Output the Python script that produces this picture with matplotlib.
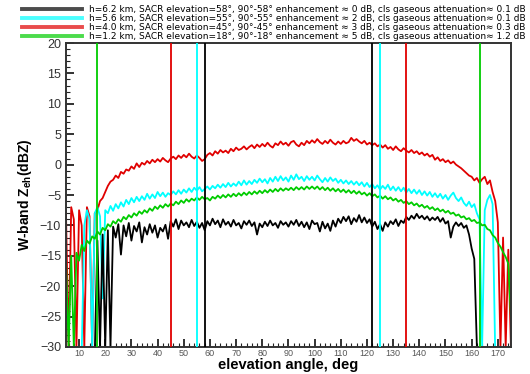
import numpy as np
import matplotlib
matplotlib.use("Agg")
import matplotlib.pyplot as plt
from matplotlib.ticker import MultipleLocator

plt.rcParams['font.family'] = ['Liberation Sans', 'DejaVu Sans']

# elevation angle grid, deg
angle = np.arange(5, 176)

red = [
    -8, -30, -7, -9, -30, -7.5, -10, -30, -7, -8.5,
    -30, -8, -7.5, -6, -5.5, -4.5, -3.5, -2.8, -2.5, -1.8,
    -2.2, -1.2, -1.5, -0.8, -1.0, -0.3, -0.7, 0.2, -0.4, 0.3,
    0.0, 0.6, 0.2, 0.8, 0.4, 0.9, 0.5, 1.1, 0.7, 0.4,
    1.0, 1.3, 0.9, 1.5, 1.1, 1.6, 1.2, 1.8, 1.3, 1.0,
    1.5, 1.1, 0.6, 0.9, 1.6, 1.9, 1.5, 2.2, 1.8, 2.4,
    2.0, 2.3, 1.9, 2.6, 2.2, 2.8, 2.4, 2.6, 3.0, 2.5,
    2.9, 3.2, 2.7, 3.3, 2.9, 3.4, 3.0, 3.6, 3.1, 2.8,
    3.5, 3.2, 3.8, 3.3, 3.6, 3.1, 3.7, 3.9, 3.3, 3.0,
    3.6, 3.2, 3.9, 3.5, 4.0, 3.6, 4.2, 3.7, 3.4, 3.9,
    3.5, 4.1, 3.6, 3.3, 3.8, 3.4, 3.9, 3.5, 3.7, 4.4,
    3.9, 4.2, 3.8, 3.5, 3.9, 3.3, 3.6, 3.2, 3.5, 3.0,
    3.3, 2.8, 3.2, 2.6, 2.9, 2.4, 3.0, 2.5, 2.2, 2.7,
    2.3, 2.0, 2.4, 1.9, 2.2, 1.7, 2.0, 1.5, 1.8, 1.3,
    1.6, 0.8, 1.2, 0.6, 0.9, 0.4, 0.7, 0.2, 0.5, 0.0,
    -0.3, -0.6, -1.0, -1.4, -1.8, -2.0, -2.6, -2.2, -3.0, -2.4,
    -2.0, -3.2, -2.6, -4.5, -6.0, -9.5, -30, -12, -30, -14,
    -30,
]

cyan = [
    -31, -31, -31, -31, -31, -31, -31, -10, -7.5, -9,
    -30, -8, -7, -8.5, -22, -7.5, -8, -6.8, -7.6, -6.5,
    -7.2, -6.2, -6.9, -5.8, -6.5, -5.5, -6.2, -5.3, -6.0, -5.2,
    -5.8, -4.8, -5.6, -4.9, -5.5, -4.5, -5.2, -4.6, -5.3, -4.7,
    -5.0, -4.4, -4.9, -4.2, -4.8, -4.1, -4.6, -3.9, -4.5, -3.8,
    -4.3, -3.7, -4.4, -4.0, -3.6, -4.1, -3.5, -3.9, -3.3, -3.8,
    -3.2, -3.7, -3.0, -3.6, -3.1, -3.5, -2.8, -3.4, -2.6, -3.3,
    -2.7, -3.2, -2.5, -3.0, -2.3, -2.9, -2.4, -3.1, -2.2, -2.8,
    -2.0, -2.7, -1.9, -2.6, -2.1, -2.8, -1.8, -2.5, -1.6, -2.4,
    -2.0, -2.7, -1.9, -2.5, -2.0, -2.6, -1.8, -2.4, -2.9, -2.2,
    -2.8, -2.1, -2.7, -2.3, -3.0, -2.5, -3.1, -2.6, -3.2, -2.7,
    -3.3, -2.8, -3.4, -2.9, -3.6, -3.0, -3.7, -3.2, -3.9, -3.4,
    -4.1, -3.5, -4.0, -3.3, -4.2, -3.6, -4.3, -3.7, -4.4, -3.8,
    -4.6, -4.0, -4.7, -4.1, -4.8, -4.2, -5.0, -4.4, -5.1, -4.5,
    -5.3, -4.7, -5.4, -4.8, -5.6, -5.0, -5.8, -5.1, -4.6, -5.5,
    -6.0, -5.4, -6.3, -6.8, -6.1, -7.0, -6.5, -8.0, -9.0, -30,
    -7.5, -5.8, -5.0, -6.5, -31, -31, -31, -31, -31, -31,
    -31,
]

green = [
    -15.5, -30, -15, -30, -14.5, -15.8, -13.2, -14.2, -12.5, -13.0,
    -11.8, -12.2, -11.0, -11.5, -10.4, -10.8, -9.8, -10.2, -9.3, -9.7,
    -9.0, -9.4, -8.6, -9.0, -8.3, -8.7, -8.0, -8.4, -7.7, -8.1,
    -7.5, -7.9, -7.2, -7.6, -6.9, -7.3, -6.7, -7.1, -6.5, -6.9,
    -6.4, -6.7, -6.1, -6.5, -5.9, -6.3, -5.7, -6.1, -5.6, -5.9,
    -5.4, -5.8, -5.3, -5.7, -5.5, -5.9, -5.3, -5.6, -5.1, -5.5,
    -5.0, -5.4, -4.9, -5.3, -4.8, -5.2, -4.7, -5.1, -4.6, -5.0,
    -4.5, -4.9, -4.4, -4.8, -4.3, -4.7, -4.2, -4.6, -4.1, -4.5,
    -4.0, -4.4, -3.9, -4.3, -3.9, -4.2, -3.8, -4.2, -3.7, -4.1,
    -3.7, -4.1, -3.6, -4.0, -3.6, -4.0, -3.6, -4.1, -3.7, -4.2,
    -3.8, -4.3, -3.9, -4.4, -4.0, -4.5, -4.1, -4.6, -4.2, -4.7,
    -4.3, -4.8, -4.4, -4.9, -4.6, -5.1, -4.7, -5.2, -4.9, -5.4,
    -5.1, -5.6, -5.2, -5.7, -5.4, -5.9, -5.6, -6.1, -5.8, -6.3,
    -6.0, -6.5, -6.2, -6.7, -6.4, -6.9, -6.6, -7.1, -6.8, -7.3,
    -7.0, -7.5, -7.2, -7.7, -7.4, -7.9, -7.6, -8.1, -7.9, -8.4,
    -8.2, -8.7, -8.5, -9.0, -8.8, -9.3, -9.1, -9.6, -9.5, -10.0,
    -9.9, -10.6, -10.8, -11.6, -12.0, -12.9, -13.5, -14.4, -15.2, -16.3,
    -25,
]

black = [
    -31, -31, -31, -31, -31, -31, -31, -31, -31, -31,
    -31, -31, -12.5, -30, -11.5, -30, -10.8, -30, -10.2, -12.0,
    -9.8, -14.8, -10.0, -11.8, -9.6, -12.5, -10.1, -11.0, -9.5, -12.8,
    -10.3, -11.5, -9.8, -11.2, -10.0, -12.0, -10.4, -11.0, -9.9, -12.2,
    -9.3, -10.2, -9.0, -10.6, -9.2, -10.0, -9.5, -10.3, -9.1, -10.1,
    -9.4, -10.4, -9.6, -10.8, -9.3, -10.0, -8.9, -9.8, -9.2, -10.3,
    -9.0, -9.9, -9.4, -10.2, -9.1, -10.0, -9.6, -10.5, -9.3, -9.9,
    -9.2, -10.1, -9.5, -11.5, -9.7, -10.3, -9.4, -10.1, -9.2, -10.0,
    -9.6, -10.4, -9.3, -9.9, -9.5, -10.2, -9.3, -9.9, -9.1, -10.1,
    -9.4, -10.3, -9.5, -10.6, -9.2, -9.8, -9.6, -11.0, -9.4, -10.5,
    -9.7, -10.9, -9.2, -10.2, -8.9, -9.6, -8.6, -9.3, -8.5, -9.8,
    -8.8, -9.4, -8.3, -9.5, -8.7, -9.6, -9.0, -10.2, -9.4, -10.6,
    -9.8, -10.9, -9.5, -10.2, -9.3, -9.8, -9.0, -10.1, -9.2, -9.6,
    -8.6, -9.1, -8.4, -8.9, -8.1, -8.8, -8.4, -9.0, -8.5, -9.2,
    -8.7, -9.1, -8.6, -9.4, -8.8, -9.7, -9.3, -12.0, -10.2, -9.5,
    -10.1, -9.6, -10.4, -10.0, -11.5, -13.8, -15.5, -30, -31, -31,
    -31, -31, -31, -31, -31, -31, -31, -31, -31, -31,
    -31,
]

labels = [
    "h=6.2 km, SACR elevation=58°, 90°-58° enhancement ≈ 0 dB, cls gaseous attenuation≈ 0.1 dB",
    "h=5.6 km, SACR elevation=55°, 90°-55° enhancement ≈ 2 dB, cls gaseous attenuation≈ 0.1 dB",
    "h=4.0 km, SACR elevation=45°, 90°-45° enhancement ≈ 3 dB, cls gaseous attenuation≈ 0.3 dB",
    "h=1.2 km, SACR elevation=18°, 90°-18° enhancement ≈ 5 dB, cls gaseous attenuation≈ 1.2 dB",
]
colors = ["#000000", "#00ffff", "#e00000", "#00cc00"]
# sector limits for each height (deg)
limits = [(58, 122), (55, 125), (45, 135), (17, 163)]

fig = plt.figure(figsize=(5.3, 3.74), dpi=100)
ax = fig.add_axes([0.1245, 0.0722, 0.8395, 0.8128])

series = [black, cyan, red, green]
handles = []
for i in [2, 1, 0, 3]:
    ax.plot(angle, series[i], color=colors[i], lw=1.3, zorder=2)
for i in range(4):
    for lim in limits[i]:
        ax.axvline(lim, color=colors[i], lw=1.3, zorder=3)
    h, = ax.plot([], [], color=colors[i], lw=2.8, alpha=0.7)
    handles.append(h)

ax.set_xlim(5, 175)
ax.set_ylim(-30, 20)
ax.xaxis.set_major_locator(MultipleLocator(10))
ax.xaxis.set_minor_locator(MultipleLocator(2))
ax.yaxis.set_major_locator(MultipleLocator(5))
ax.yaxis.set_minor_locator(MultipleLocator(1))
ax.tick_params(which='both', direction='in', top=False, right=False, colors='#222222')
ax.tick_params(which='major', length=6, width=1.3)
ax.tick_params(which='minor', length=3, width=0.8)
ax.tick_params(axis='x', labelsize=6.5, labelcolor='#555555', pad=1.5)
ax.tick_params(axis='y', labelsize=9, labelcolor='#333333')
for s in ax.spines.values():
    s.set_linewidth(1.4)
    s.set_color('#333333')

ax.set_xlabel("elevation angle, deg", fontsize=10.5, fontweight='bold', labelpad=0.3)
ax.set_ylabel("W-band Z$_{\\mathregular{eh}}$(dBZ)", fontsize=10, fontweight='bold', labelpad=4)

fig.legend(handles, labels, loc='upper left', bbox_to_anchor=(0.035, 0.995),
           prop={'family': 'DejaVu Sans', 'size': 6.5}, frameon=False,
           labelspacing=0.0, handlelength=6.6, handletextpad=0.8, borderaxespad=0)

fig.savefig("out.png", dpi=100)
